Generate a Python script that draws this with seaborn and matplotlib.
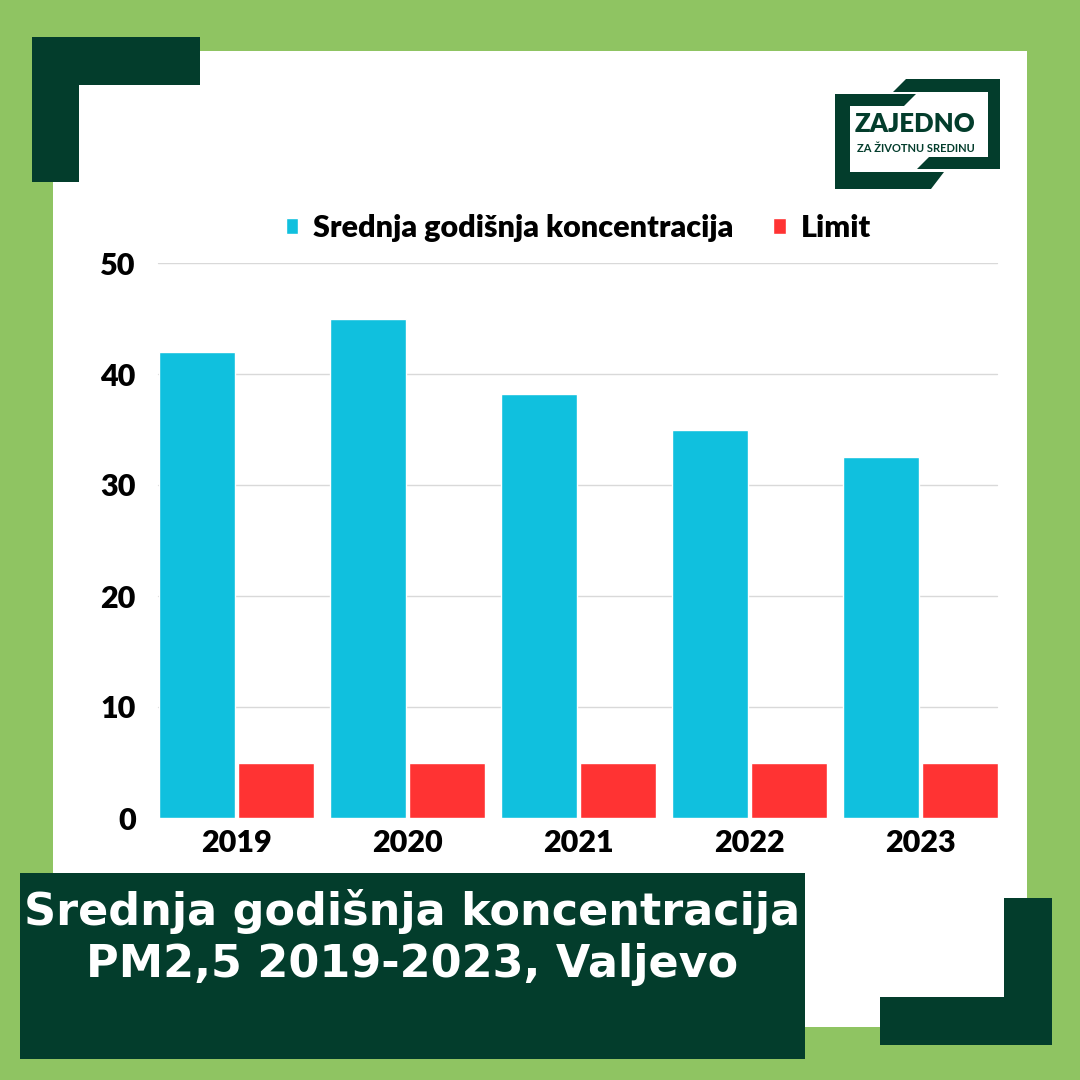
import matplotlib
matplotlib.use("Agg")
import matplotlib.pyplot as plt
import matplotlib.patches as mpatches
import seaborn as sns
import pandas as pd

# podaci
years = ["2019", "2020", "2021", "2022", "2023"]
mean_conc = [42.0, 45.0, 38.2, 35.0, 32.5]
limit = [5, 5, 5, 5, 5]
series_names = ["Srednja godišnja koncentracija", "Limit"]
y_ticks = [0, 10, 20, 30, 40, 50]

cyan = "#10c0de"
red = "#ff3333"
dark_green = "#033d2c"
light_green = "#8fc462"

df = pd.DataFrame({
    "year": years * 2,
    "value": mean_conc + limit,
    "series": [series_names[0]] * len(years) + [series_names[1]] * len(years),
})

sns.set_style("white")
plt.rcParams["font.family"] = ["Lato", "DejaVu Sans"]
plt.rcParams["text.color"] = "black"
plt.rcParams["xtick.color"] = "black"
plt.rcParams["ytick.color"] = "black"

W = H = 1080
fig = plt.figure(figsize=(10.8, 10.8), dpi=100)
fig.patch.set_facecolor(light_green)

def px_rect(x0, y0, x1, y1, color, z=0):
    # pravougaonik u pikselima (y od vrha)
    fig.patches.append(mpatches.Rectangle((x0 / W, 1 - y1 / H), (x1 - x0) / W, (y1 - y0) / H,
                                          transform=fig.transFigure, facecolor=color,
                                          edgecolor="none", zorder=z))

def px_poly(points, color, z=0):
    pts = [(x / W, 1 - y / H) for x, y in points]
    fig.patches.append(mpatches.Polygon(pts, closed=True, transform=fig.transFigure,
                                        facecolor=color, edgecolor="none", zorder=z))

# bijela podloga i okviri
px_rect(53, 51, 1027, 1027, "white", -5)
px_rect(32, 37, 200, 85, dark_green, -4)
px_rect(32, 37, 79, 182, dark_green, -4)
px_rect(1004, 898, 1052, 1045, dark_green, -4)
px_rect(880, 997, 1052, 1045, dark_green, -4)
px_rect(20, 873, 805, 1059, dark_green, -4)

# logo: dvije "zagrade"
px_poly([(893, 92), (906, 79), (1000, 79), (1000, 92)], dark_green, -3)
px_rect(988, 79, 1000, 169, dark_green, -3)
px_poly([(917, 169), (929, 157), (1000, 157), (1000, 169)], dark_green, -3)
px_poly([(835, 94), (916, 94), (904, 106), (835, 106)], dark_green, -3)
px_rect(835, 94, 850, 189, dark_green, -3)
px_poly([(835, 172), (944, 172), (931, 189), (835, 189)], dark_green, -3)
fig.text(915 / W, 1 - 124 / H, "ZAJEDNO", ha="center", va="center", fontsize=18.5,
         fontweight="heavy", color=dark_green)
fig.text(916 / W, 1 - 148 / H, "ZA ŽIVOTNU SREDINU", ha="center", va="center", fontsize=8,
         fontweight="bold", color=dark_green)

# grafikon
ax = fig.add_axes([151 / W, 1 - 818 / H, 855 / W, 555 / H])
ax.set_zorder(5)
ax.set_facecolor("none")
sns.barplot(data=df, x="year", y="value", hue="series", palette=[cyan, red],
            saturation=1, width=0.92, gap=0.035, ax=ax, zorder=3, legend=True)
ax.set_ylim(0, 50)
ax.set_xlim(-0.5, 4.5)
ax.set_yticks(y_ticks)
ax.set_yticklabels([str(t) for t in y_ticks], fontsize=22, fontweight="heavy")
ax.set_xticklabels(years, fontsize=22, fontweight="heavy")
ax.tick_params(axis="y", length=0, pad=11)
ax.tick_params(axis="x", length=0, pad=8)
ax.set_xlabel("")
ax.set_ylabel("")
for t in y_ticks[1:]:
    ax.axhline(t, xmin=0.008, xmax=0.99, color="#d9d9d9", lw=1, zorder=1)
for s in ax.spines.values():
    s.set_visible(False)

ax.legend(loc="center", bbox_to_anchor=(0.5, 1.063), ncol=2, frameon=False,
          prop={"size": 22, "weight": "heavy"}, handlelength=0.4, handleheight=0.4,
          handletextpad=0.5, columnspacing=1.3)

# naslov
title_font = ["DejaVu Sans"]
fig.text(412 / W, 1 - 911 / H, "Srednja godišnja koncentracija", ha="center", va="center",
         fontsize=32, fontweight="bold", color="white", family=title_font)
fig.text(412 / W, 1 - 964 / H, "PM2,5 2019-2023, Valjevo", ha="center", va="center",
         fontsize=32, fontweight="bold", color="white", family=title_font)

fig.savefig("out.png", dpi=100, facecolor=fig.get_facecolor())
